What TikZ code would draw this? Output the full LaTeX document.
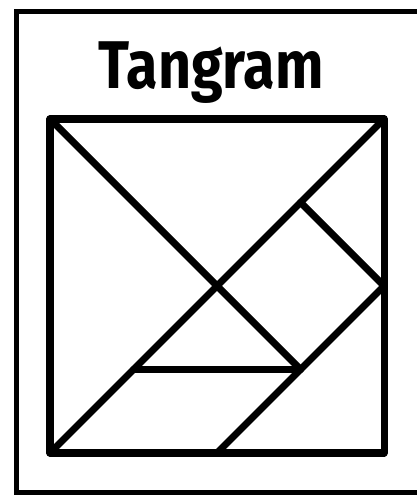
\documentclass[tikz,border=0pt]{standalone}
\usepackage{fontspec}
\newfontfamily\titlefont{Fira Sans}
\begin{document}
\begin{tikzpicture}[
  piece/.style={line width=4.8pt, line cap=round, line join=round},
  frame/.style={line width=3.4pt},
  title/.style={font=\titlefont\bfseries\fontsize{46}{46}\selectfont, inner sep=0pt, anchor=base},
]
  \useasboundingbox (-1.198,-1.030) rectangle (8.790,10.850);
  \clip (-1.198,-1.030) rectangle (8.790,10.850);

  % ---- outer frame ----
  \draw[frame] (9.3,10.563) -- (-0.814,10.563) -- (-0.814,-0.958) -- (9.3,-0.958);

  % ---- title ----
  \node[title, xscale=0.85] (title) at (3.86,8.74) {Tangram};

  % ---- points of the square ----
  \coordinate (bl) at (0,0);
  \coordinate (tr) at (8,8);
  \coordinate (tl) at (0,8);
  \coordinate (c) at (4,4);
  \coordinate (rm) at (8,4);
  \coordinate (bm) at (4,0);
  \coordinate (a) at (6,6);
  \coordinate (b) at (6,2);
  \coordinate (d) at (2,2);

  % ---- pieces ----
  \draw[piece] (bl) rectangle (tr);
  \draw[piece] (bl) -- (tr);
  \draw[piece] (tl) -- (c) -- (b);
  \draw[piece] (a) -- (rm) -- (bm);
  \draw[piece] (d) -- (b);
\end{tikzpicture}
\end{document}
